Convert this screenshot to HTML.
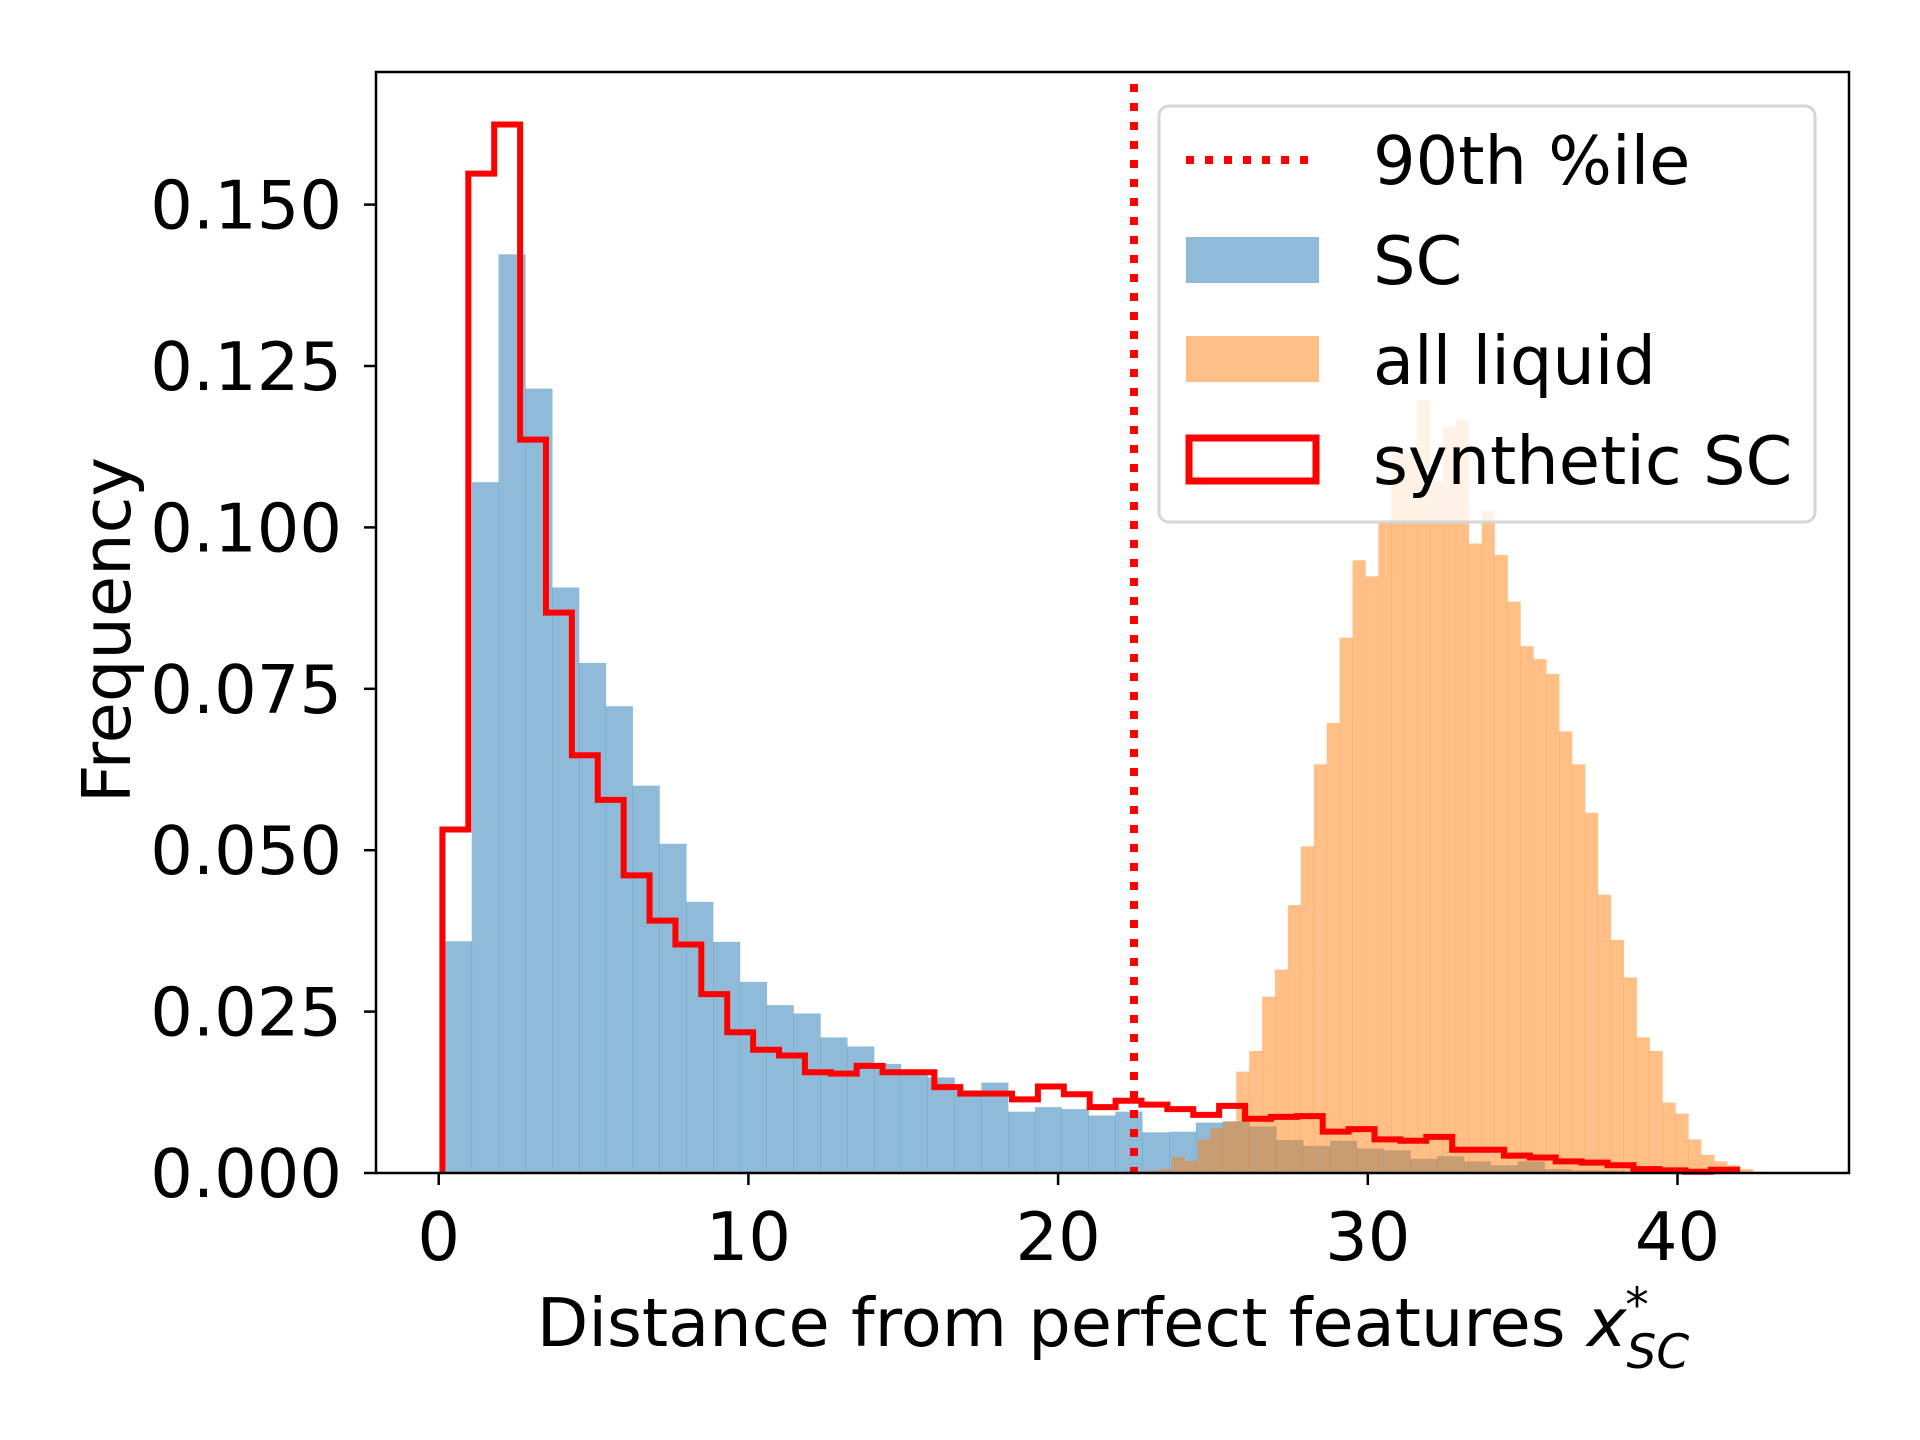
<!DOCTYPE html>
<html><head><meta charset="utf-8"><style>
html,body{margin:0;padding:0;background:#fff;}
svg{display:block;font-family:"DejaVu Sans","Liberation Sans",sans-serif;}
</style></head><body>
<svg id="chart" width="1920" height="1440" viewBox="0 0 1920 1440" xmlns="http://www.w3.org/2000/svg">
<rect width="1920" height="1440" fill="#fff"/>
<g id="plot"></g>
<text x="1113" y="1346" font-size="67" text-anchor="middle">Distance from perfect features <tspan font-style="italic">x</tspan><tspan font-style="italic" font-size="47" dy="22">SC</tspan><tspan font-size="47" dx="-64" dy="-47">*</tspan></text>
<text transform="translate(130,630) rotate(-90)" font-size="67" text-anchor="middle">Frequency</text>
<g>
<rect x="1159" y="106" width="656" height="416" rx="10" fill="#fff" fill-opacity="0.8" stroke="#d6d6d6" stroke-width="3"/>
<line x1="1186" y1="160" x2="1310" y2="160" stroke="#ff0000" stroke-width="8" stroke-dasharray="8 11"/>
<text x="1373" y="184" font-size="67">90th %ile</text>
<rect x="1186" y="237" width="133" height="46" fill="#8fbbd9"/>
<text x="1373" y="284" font-size="67">SC</text>
<rect x="1186" y="336" width="133" height="46" fill="#ffbf86"/>
<text x="1373" y="384" font-size="67">all liquid</text>
<rect x="1189" y="438" width="127" height="43" fill="none" stroke="#ff0000" stroke-width="7"/>
<text x="1373" y="484" font-size="67">synthetic SC</text>
</g>
</svg>
<script>
const scValues=[0.0359,0.107,0.1423,0.1215,0.0907,0.079,0.0723,0.060,0.051,0.042,0.0358,0.0296,0.026,0.0247,0.021,0.0196,0.0169,0.016,0.0148,0.0128,0.014,0.0095,0.0102,0.0099,0.0089,0.0095,0.0063,0.0064,0.0078,0.0080,0.0072,0.0051,0.0042,0.0050,0.0038,0.0035,0.0022,0.0026,0.0018,0.0012,0.0018,0.0006,0.0004,0.0004,0.0002,0.0002,0.0001,0.0001,0,0];
const scBins=[0.2,0.866];
const liquidValues=[0.0002,0.0002,0.0004,0.0006,0.0025,0.0018,0.0052,0.0069,0.0080,0.0157,0.0189,0.0273,0.0315,0.0415,0.0506,0.0633,0.0697,0.0829,0.0949,0.0924,0.1010,0.1113,0.1115,0.1197,0.1071,0.1156,0.1167,0.0975,0.1026,0.0957,0.0885,0.0816,0.0796,0.0773,0.0684,0.0633,0.0558,0.0431,0.0361,0.0303,0.0210,0.0189,0.0109,0.0092,0.0052,0.0028,0.0018,0.0012,0.0006,0.0002];
const liquidBins=[22.0,0.417];
const syntheticValues=[0.0532,0.1548,0.1624,0.1136,0.0868,0.0647,0.0578,0.0461,0.0391,0.0354,0.0277,0.0218,0.0191,0.0182,0.0156,0.0154,0.0166,0.0156,0.0156,0.0133,0.0123,0.0123,0.0114,0.0134,0.0122,0.0102,0.0112,0.0106,0.0099,0.0090,0.0104,0.0084,0.0087,0.0088,0.0064,0.0068,0.0052,0.0050,0.0056,0.0036,0.0036,0.0027,0.0024,0.0018,0.0016,0.0012,0.0006,0.0004,0.0002,0.0005];
const syntheticBins=[0.12,0.836];
const percentile90=22.45;
const xTicks=[0,10,20,30,40];
const yTicks=[0,0.025,0.05,0.075,0.1,0.125,0.15];
const yTickLabels=["0.000","0.025","0.050","0.075","0.100","0.125","0.150"];

const NS="http://www.w3.org/2000/svg";
const L=376,R=1849,T=72,B=1173;
const X=v=>438.7+v*30.97;
const Y=v=>B-v*6456;
const g=document.getElementById('plot');
function mk(tag,attrs){const e=document.createElementNS(NS,tag);for(const k in attrs)e.setAttribute(k,attrs[k]);g.appendChild(e);return e;}

scValues.forEach((v,i)=>{
  const x0=X(scBins[0]+i*scBins[1]),x1=X(scBins[0]+(i+1)*scBins[1]);
  const r=mk('rect',{x:x0,y:Y(v),width:x1-x0+0.3,height:B-Y(v),fill:'#1f77b4','fill-opacity':0.5});
  
  
});
liquidValues.forEach((v,i)=>{
  const x0=X(liquidBins[0]+i*liquidBins[1]),x1=X(liquidBins[0]+(i+1)*liquidBins[1]);
  const r=mk('rect',{x:x0,y:Y(v),width:x1-x0+0.3,height:B-Y(v),fill:'#ff7f0e','fill-opacity':0.5});
  
  
});
let d='M'+X(syntheticBins[0])+','+B;
syntheticValues.forEach((v,i)=>{
  d+=' L'+X(syntheticBins[0]+i*syntheticBins[1])+','+Y(v)+' L'+X(syntheticBins[0]+(i+1)*syntheticBins[1])+','+Y(v);
});
d+=' L'+X(syntheticBins[0]+syntheticValues.length*syntheticBins[1])+','+B;
const p=mk('path',{d:d,fill:'none',stroke:'#ff0000','stroke-width':6,'stroke-linejoin':'miter'});


const vl=mk('line',{x1:X(percentile90),x2:X(percentile90),y1:T+12,y2:B,stroke:'#ff0000','stroke-width':8,'stroke-dasharray':'8 11'});


const fr=mk('rect',{x:L,y:T,width:R-L,height:B-T,fill:'none',stroke:'#000','stroke-width':2.5});


xTicks.forEach(t=>{
  const tk=mk('line',{x1:X(t),x2:X(t),y1:B,y2:B+12,stroke:'#000','stroke-width':2.5});
  
  
  const tx=mk('text',{x:X(t),y:B+87,'font-size':67,'text-anchor':'middle'});
  tx.textContent=String(t);
  
  
});
yTicks.forEach((t,i)=>{
  const tk=mk('line',{x1:L-12,x2:L,y1:Y(t),y2:Y(t),stroke:'#000','stroke-width':2.5});
  
  
  const tx=mk('text',{x:L-34,y:Y(t)+24,'font-size':67,'text-anchor':'end'});
  tx.textContent=yTickLabels[i];
  
  
});
</script>
</body></html>
